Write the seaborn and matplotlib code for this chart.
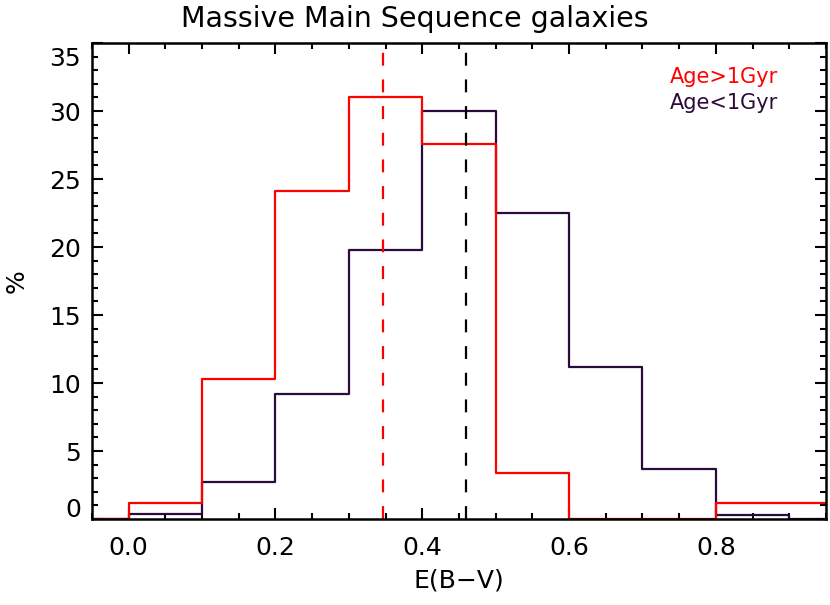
import matplotlib
matplotlib.use("Agg")
import matplotlib.pyplot as plt
import matplotlib.transforms as mtransforms
from matplotlib.ticker import MultipleLocator
import seaborn as sns

# -------------------------------
# Data
# -------------------------------
bin_edges = [-0.1, 0.0, 0.1, 0.2, 0.3, 0.4, 0.5, 0.6, 0.7, 0.8, 0.9, 1.0]
bin_centers = [-0.05, 0.05, 0.15, 0.25, 0.35, 0.45, 0.55, 0.65, 0.75, 0.85, 0.95]
pct_old = [0.0, 1.15, 10.3, 24.1, 31.0, 27.6, 3.4, 0.0, 0.0, 1.15, 1.15]
pct_young = [0.0, 0.35, 2.7, 9.2, 19.8, 30.0, 22.5, 11.2, 3.7, 0.3, 0.0]
median_old = 0.346
median_young = 0.460

x_ticks = [0.0, 0.2, 0.4, 0.6, 0.8]
y_ticks = [0, 5, 10, 15, 20, 25, 30, 35]

RED = "#ff0000"
DARK = "#2b0b3b"

sns.set_style("ticks")
plt.rcParams["font.family"] = ["DejaVu Sans"]
plt.rcParams["text.color"] = "black"
plt.rcParams["axes.labelcolor"] = "black"
plt.rcParams["xtick.color"] = "black"
plt.rcParams["ytick.color"] = "black"

fig = plt.figure(figsize=(8.3, 6.05), dpi=100)
ax = fig.add_axes([0.1108, 0.1421, 0.8843, 0.7868])

# -------------------------------
# Step histograms
# -------------------------------
sns.histplot(x=bin_centers, weights=pct_young, bins=bin_edges,
             element="step", fill=False, color=DARK, linewidth=1.6, ax=ax)
sns.histplot(x=bin_centers, weights=pct_old, bins=bin_edges,
             element="step", fill=False, color=RED, linewidth=1.6, ax=ax)

ax.axvline(median_old, color=RED, linewidth=1.6, dashes=(5.8, 6.2))
ax.axvline(median_young, color="black", linewidth=1.6, dashes=(5.8, 6.2))

ax.set_xlim(-0.05, 0.95)
ax.set_ylim(0, 35)

# -------------------------------
# Axes styling (IDL look)
# -------------------------------
for side in ["left", "right", "top", "bottom"]:
    ax.spines[side].set_visible(True)
    ax.spines[side].set_linewidth(1.8)
    ax.spines[side].set_color("black")

ax.set_xticks(x_ticks)
ax.set_xticklabels([f"{v:.1f}" for v in x_ticks])
ax.set_yticks(y_ticks)
ax.set_yticklabels([str(v) for v in y_ticks])
ax.xaxis.set_minor_locator(MultipleLocator(0.05))
ax.yaxis.set_minor_locator(MultipleLocator(1))

ax.tick_params(which="both", direction="in", top=True, right=True,
               width=1.5, color="black")
ax.tick_params(which="major", length=8)
ax.tick_params(which="minor", length=4)
ax.tick_params(axis="x", which="major", labelsize=18, pad=12)
ax.tick_params(axis="y", which="major", labelsize=18, pad=8)

# IDL keeps the end labels inside the axis range
labels = ax.get_yticklabels()
labels[0].set_transform(labels[0].get_transform() +
                        mtransforms.ScaledTranslation(0, 8 / 72, fig.dpi_scale_trans))
labels[-1].set_transform(labels[-1].get_transform() +
                         mtransforms.ScaledTranslation(0, -10 / 72, fig.dpi_scale_trans))

ax.set_xlabel("E(B\u2212V)", fontsize=18, labelpad=6)
ax.set_ylabel("%", fontsize=18, labelpad=15)

fig.text(0.5, 0.968, "Massive Main Sequence galaxies", ha="center",
         va="center", fontsize=20.5)

ax.text(0.935, 0.928, "Age>1Gyr", color=RED, fontsize=15,
        ha="right", va="center", transform=ax.transAxes)
ax.text(0.935, 0.874, "Age<1Gyr", color=DARK, fontsize=15,
        ha="right", va="center", transform=ax.transAxes)

plt.savefig("out.png", dpi=100)
plt.close()
